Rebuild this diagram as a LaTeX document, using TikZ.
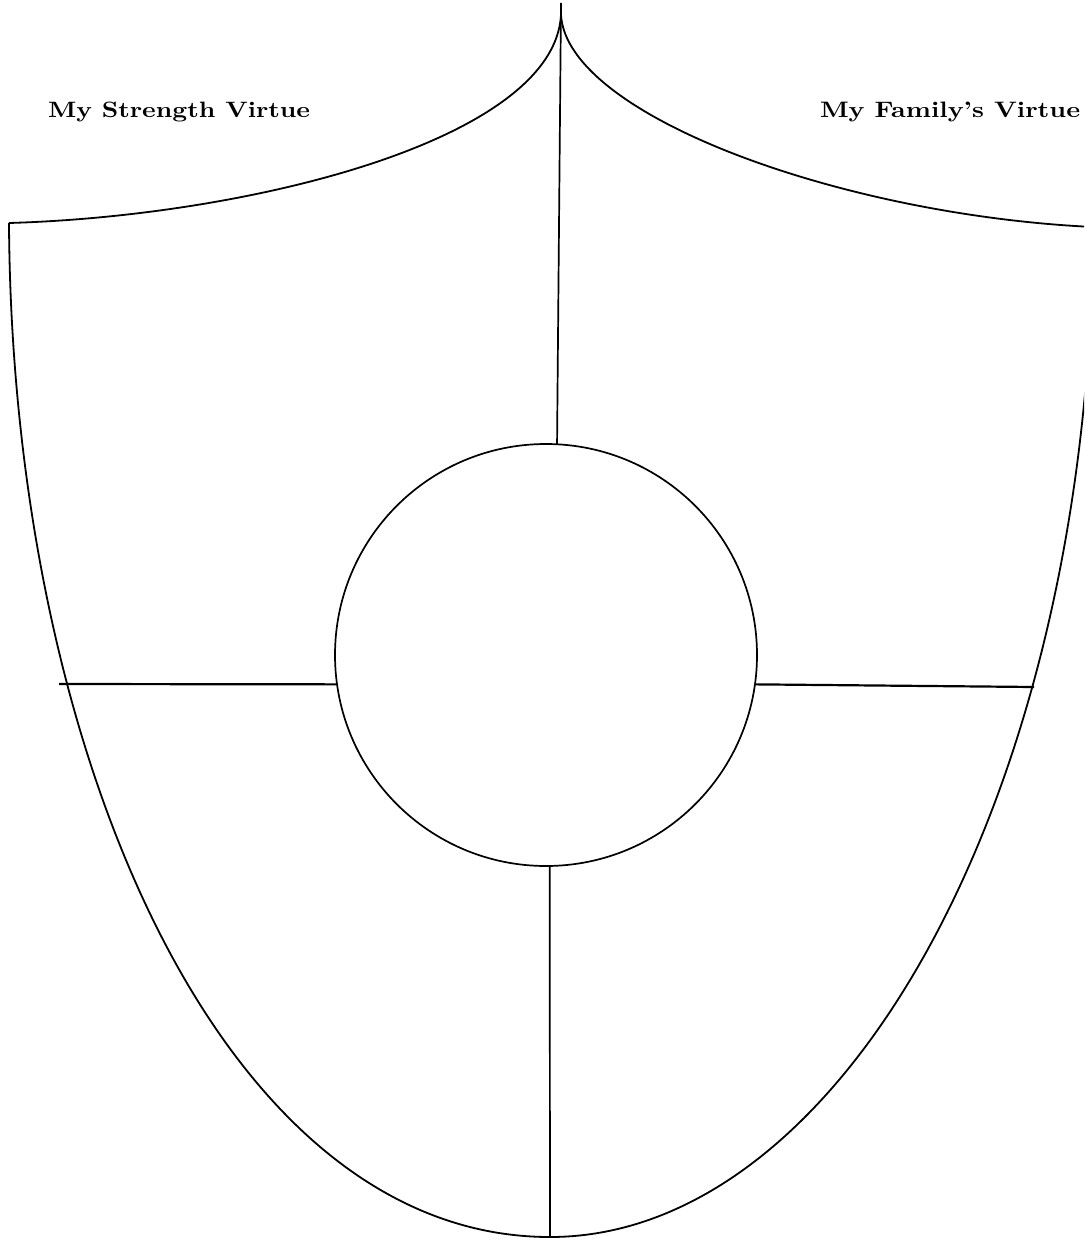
\documentclass[tikz,border=0pt]{standalone}
\usepackage{graphicx}
\tikzset{
  outline/.style={line width=1.8pt, line join=round},
  divider/.style={line width=1.7pt},
  bar/.style={line width=2.2pt},
  label/.style={inner sep=0pt, outer sep=0pt, anchor=base west}
}
\begin{document}
\begin{tikzpicture}[x=1pt,y=-1pt]
\useasboundingbox (0,0) rectangle (1084,1238);
\clip (0,0) rectangle (1084,1238);
% key points
\coordinate (peak) at (561,15);
\coordinate (ptop) at (561,3);
\coordinate (lc) at (9,223);
\coordinate (rc) at (1093,227);
\coordinate (bot) at (550,1237);
\coordinate (bend) at (550,1238);
\coordinate (lh) at (59,684);
\coordinate (rh) at (1034,687);
% shield outline
\draw[outline] (lc) .. controls (250,216) and (554,140) .. (peak);
\draw[outline] (peak) .. controls (567,115) and (840,215) .. (rc);
\draw[outline] (lc) .. controls (12,760) and (225,1237) .. (bot);
\draw[outline] (rc) .. controls (1090,800) and (840,1237) .. (bot);
% central circle
\node[circle, draw, line width=1.7pt, minimum size=422pt, inner sep=0pt, outer sep=0pt] (hub) at (546,655) {};
% dividers
\draw[divider] (ptop) -- (hub.87);
\draw[divider] (hub.-89) -- (bend);
\draw[bar] (lh) -- (hub.188);
\draw[bar] (hub.-8.7) -- (rh);
% labels
\node[label] (lt) at (48,118) {\resizebox{262pt}{15.5pt}{\bfseries My Strength Virtue}};
\node[label] (rt) at (820,118) {\resizebox{260pt}{15.5pt}{\bfseries My Family's Virtue}};
\end{tikzpicture}
\end{document}
